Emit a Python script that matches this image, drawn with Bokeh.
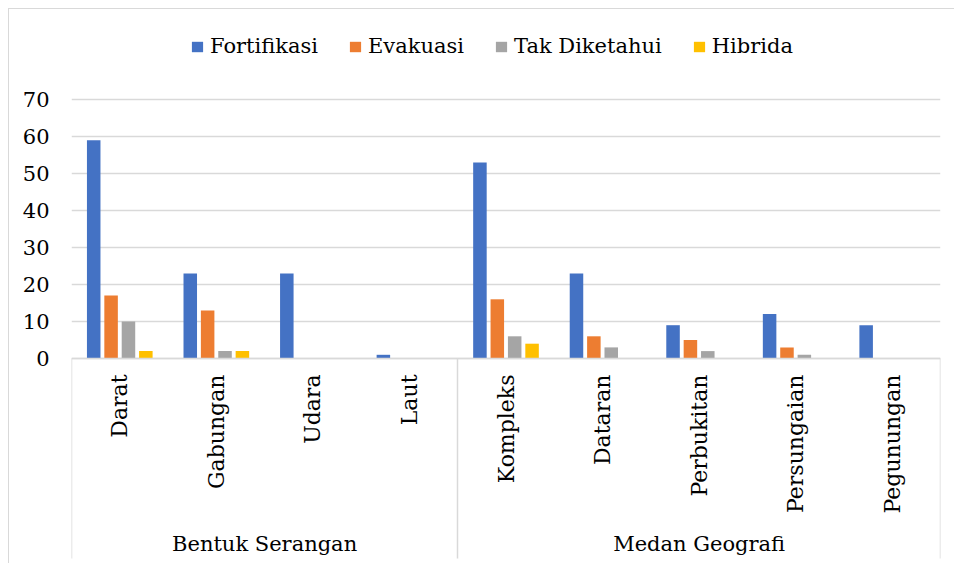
import math
from bokeh.plotting import figure
from bokeh.models import (FactorRange, Legend, LegendItem, ColumnDataSource,
                          FixedTicker, Range1d, LinearAxis)
from bokeh.transform import dodge
from bokeh.embed import file_html
from bokeh.resources import INLINE

# ---- data ----
groups = ["Bentuk Serangan"] * 4 + ["Medan Geografi"] * 5
categories = ["Darat", "Gabungan", "Udara", "Laut",
              "Kompleks", "Dataran", "Perbukitan", "Persungaian", "Pegunungan"]
series_names = ["Fortifikasi", "Evakuasi", "Tak Diketahui", "Hibrida"]
fortifikasi = [59, 23, 23, 1, 53, 23, 9, 12, 9]
evakuasi = [17, 13, 0, 0, 16, 6, 5, 3, 0]
tak_diketahui = [10, 2, 0, 0, 6, 3, 2, 1, 0]
hibrida = [2, 2, 0, 0, 4, 0, 0, 0, 0]
y_ticks = [0, 10, 20, 30, 40, 50, 60, 70]

# ---- style / layout ----
colors = ["#4472C4", "#ED7D31", "#A5A5A5", "#FFC000"]
FONT = "DejaVu Serif"
FS = "21px"
GRID = "#D9D9D9"
W, H = 946, 555
ZERO_PX = 349          # y of value 0, from the top of the figure
TOP_PX = 90            # y of the top tick, from the top of the figure
upp = y_ticks[-1] / (ZERO_PX - TOP_PX)   # data units per pixel
y_top = ZERO_PX * upp
y_bottom = -(H - ZERO_PX) * upp

factors = list(zip(groups, categories))
source = ColumnDataSource(dict(x=factors, s0=fortifikasi, s1=evakuasi,
                               s2=tak_diketahui, s3=hibrida))

x_range = FactorRange(*factors, factor_padding=0, group_padding=0,
                      subgroup_padding=0, range_padding=0)

p = figure(width=W, height=H, x_range=x_range, y_range=Range1d(y_bottom, y_top),
           output_backend="svg", toolbar_location=None,
           min_border_left=62, min_border_right=15, min_border_top=0,
           min_border_bottom=0,
           styles={"margin-left": "8px", "margin-top": "8px",
                   "border-top": "1px solid #D9D9D9",
                   "border-left": "1px solid #D9D9D9"})
p.outline_line_color = None

offsets = [-0.27, -0.09, 0.09, 0.27]
items = []
for i, (name, col) in enumerate(zip(series_names, colors)):
    r = p.vbar(x=dodge("x", offsets[i], range=p.x_range), top="s%d" % i,
               bottom=0, width=0.14, source=source, fill_color=col,
               line_color=None)
    items.append(LegendItem(label=name, renderers=[r]))

# y axis
p.yaxis.ticker = FixedTicker(ticks=y_ticks)
p.yaxis.axis_line_color = None
p.yaxis.major_tick_line_color = None
p.yaxis.major_tick_out = 0
p.yaxis.minor_tick_line_color = None
p.yaxis.major_label_text_font = FONT
p.yaxis.major_label_text_font_size = FS
p.yaxis.major_label_text_color = "#000000"
p.yaxis.major_label_standoff = 22
p.ygrid.ticker = FixedTicker(ticks=y_ticks)
p.ygrid.grid_line_color = GRID
p.ygrid.grid_line_width = 1.5
p.xgrid.grid_line_color = None

# x axis (categories + groups), drawn at value 0
xa = p.xaxis[0]
xa.fixed_location = 0
xa.axis_line_color = GRID
xa.axis_line_width = 1.5
xa.major_tick_line_color = None
xa.major_tick_out = 0
xa.major_tick_in = 0
xa.major_label_orientation = math.pi / 2
xa.group_label_orientation = "horizontal"
xa.major_label_text_font = FONT
xa.major_label_text_font_size = "22px"
xa.major_label_text_color = "#000000"
xa.group_text_font = FONT
xa.group_text_font_size = FS
xa.group_text_color = "#000000"
xa.group_text_font_style = "normal"
xa.major_label_standoff = 16
xa.separator_line_color = None

# boundary lines of the category-label area (edges and between groups),
# drawn as long ticks at the factor range's synthetic boundaries
n_first = groups.count(groups[0])
edge_axis = LinearAxis(fixed_location=0,
                       ticker=FixedTicker(ticks=[0, n_first, len(categories)]),
                       axis_line_color=None, minor_tick_line_color=None,
                       major_tick_in=0, major_tick_out=200,
                       major_tick_line_color=GRID, major_tick_line_width=1.5,
                       major_label_text_color=None)
p.add_layout(edge_axis, "below")

legend = Legend(items=items, orientation="horizontal", location=(119, 506),
                label_text_font=FONT, label_text_font_size=FS,
                label_text_color="#000000", glyph_width=14, glyph_height=13,
                label_height=24, label_standoff=6, spacing=30, padding=0,
                margin=0, border_line_color=None, background_fill_alpha=0)
p.add_layout(legend, "center")

open("out.html", "w").write(file_html(p, INLINE))
